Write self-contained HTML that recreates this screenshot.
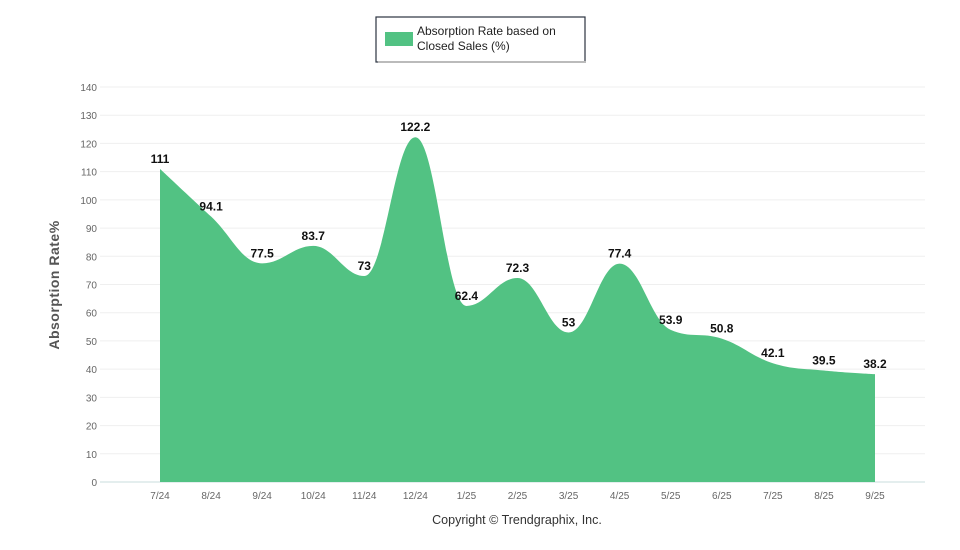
<!DOCTYPE html>
<html><head><meta charset="utf-8"><style>
body{margin:0;background:#fff;}
svg{display:block;font-family:"Liberation Sans",sans-serif;}
</style></head><body>
<svg id="c" width="960" height="550" xmlns="http://www.w3.org/2000/svg">
<rect width="960" height="550" fill="#fff"/>
<g id="grid"></g>
<path id="area" fill="#52c283" stroke="none"/>
<g id="labels"></g>
<text transform="translate(59,285) rotate(-90)" text-anchor="middle" font-size="14" font-weight="bold" fill="#555" letter-spacing="0.5">Absorption Rate%</text>
<rect x="376" y="17" width="209" height="45" fill="#fff" stroke="#2b3340" stroke-width="1.2"/>
<rect x="378" y="61" width="208" height="2" fill="#bbb"/>
<rect x="385" y="32" width="28" height="14" fill="#52c283"/>
<text x="417" y="35" font-size="12" fill="#222">Absorption Rate based on</text>
<text x="417" y="50" font-size="12" fill="#222">Closed Sales (%)</text>
<text x="517" y="524" text-anchor="middle" font-size="12.5" fill="#333">Copyright © Trendgraphix, Inc.</text>
</svg>
<script>
var ns="http://www.w3.org/2000/svg";
var vals=[111,94.1,77.5,83.7,73,122.2,62.4,72.3,53,77.4,53.9,50.8,42.1,39.5,38.2];
var cats=["7/24","8/24","9/24","10/24","11/24","12/24","1/25","2/25","3/25","4/25","5/25","6/25","7/25","8/25","9/25"];
var y0=482,sc=395/140,x0=160,dx=(875-160)/14;
function Y(v){return y0-v*sc;}
var g=document.getElementById("grid");
function el(t,a,p,txt){var e=document.createElementNS(ns,t);for(var k in a)e.setAttribute(k,a[k]);if(txt!==undefined)e.textContent=txt;p.appendChild(e);return e;}
for(var v=0;v<=140;v+=10){var y=Y(v);
el("line",{x1:100,x2:925,y1:y,y2:y,stroke:v==0?"#e4eeee":"#efefef","stroke-width":v==0?2:1},g);
el("text",{x:97,y:y+4,"text-anchor":"end","font-size":"10",fill:"#666"},g,v);}
var pts=vals.map(function(v,i){return [x0+dx*i,Y(v)];});
for(var i=0;i<cats.length;i++)el("text",{x:pts[i][0],y:499,"text-anchor":"middle","font-size":"10",fill:"#666"},g,cats[i]);
var s=1.5,d=1+s,ctrl=[];
for(var i=0;i<pts.length;i++){var p=pts[i];
if(i==0||i==pts.length-1){ctrl.push([p,p]);continue;}
var a=pts[i-1],b=pts[i+1];
var lx=(s*p[0]+a[0])/d,ly=(s*p[1]+a[1])/d,rx=(s*p[0]+b[0])/d,ry=(s*p[1]+b[1])/d;
var corr=((ry-ly)*(rx-p[0]))/(rx-lx)+p[1]-ry;ly+=corr;ry+=corr;
if(ly>a[1]&&ly>p[1]){ly=Math.max(a[1],p[1]);ry=2*p[1]-ly;}else if(ly<a[1]&&ly<p[1]){ly=Math.min(a[1],p[1]);ry=2*p[1]-ly;}
if(ry>b[1]&&ry>p[1]){ry=Math.max(b[1],p[1]);ly=2*p[1]-ry;}else if(ry<b[1]&&ry<p[1]){ry=Math.min(b[1],p[1]);ly=2*p[1]-ry;}
ctrl.push([[lx,ly],[rx,ry]]);}
var dstr="M"+pts[0][0]+","+y0+" L"+pts[0][0]+","+pts[0][1];
for(var i=1;i<pts.length;i++){var c1=ctrl[i-1][1],c2=ctrl[i][0];
dstr+=" C"+c1[0]+","+c1[1]+" "+c2[0]+","+c2[1]+" "+pts[i][0]+","+pts[i][1];}
dstr+=" L"+pts[pts.length-1][0]+","+y0+" Z";
document.getElementById("area").setAttribute("d",dstr);
var L=document.getElementById("labels");
for(var i=0;i<pts.length;i++)el("text",{x:pts[i][0],y:pts[i][1]-6,"text-anchor":"middle","font-size":"12","font-weight":"bold",fill:"#111"},L,vals[i]);
</script>
</body></html>
